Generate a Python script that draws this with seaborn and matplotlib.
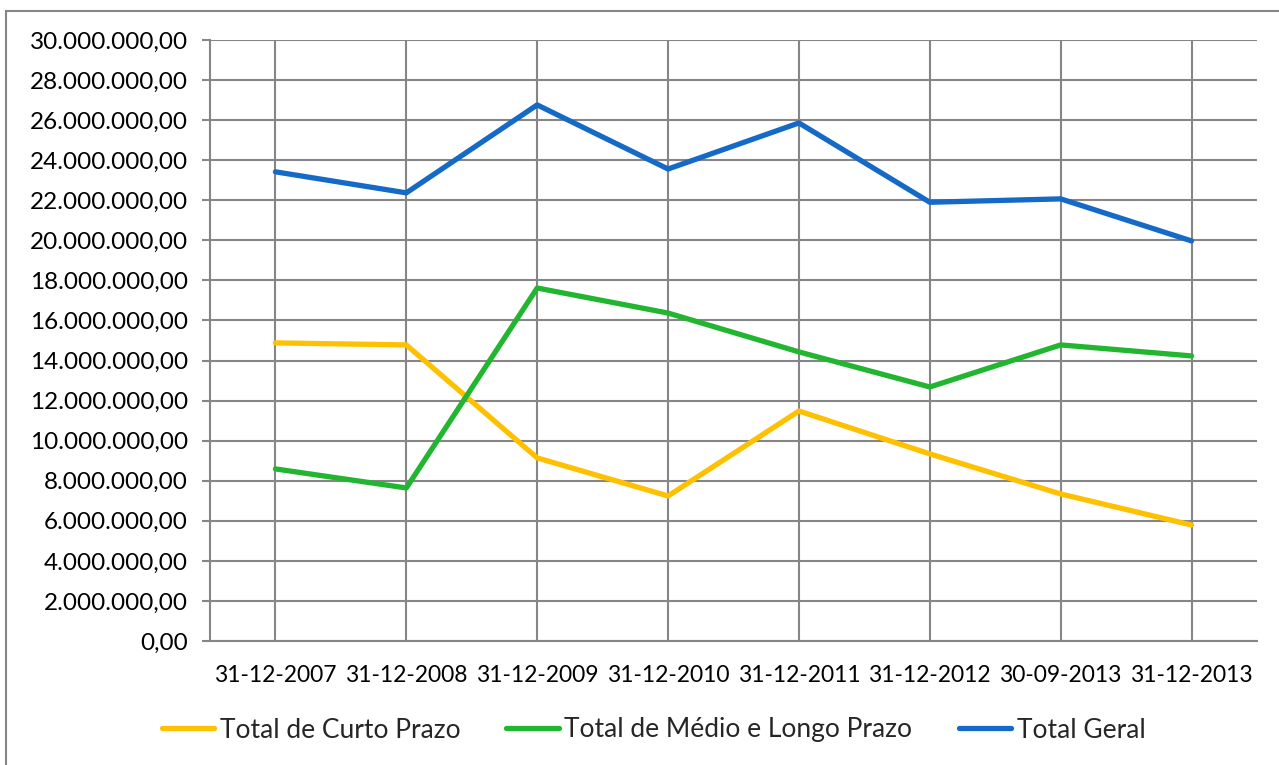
import pandas as pd
import numpy as np
import matplotlib
matplotlib.use('Agg')
import matplotlib.pyplot as plt
from matplotlib.ticker import FuncFormatter, FixedLocator
from matplotlib.patches import Rectangle
import seaborn as sns

# dados
datas = ['31-12-2007', '31-12-2008', '31-12-2009', '31-12-2010',
         '31-12-2011', '31-12-2012', '30-09-2013', '31-12-2013']
curto_prazo = [14.88, 14.78, 9.14, 7.24, 11.48, 9.34, 7.34, 5.79]
medio_longo = [8.59, 7.64, 17.62, 16.37, 14.43, 12.68, 14.78, 14.23]
total_geral = [23.42, 22.37, 26.76, 23.56, 25.86, 21.90, 22.07, 19.97]
series = ['Total de Curto Prazo', 'Total de Médio e Longo Prazo', 'Total Geral']
cores = ['#FFC000', '#21B530', '#1569C7']

sns.set_theme(style='white')
plt.rcParams['font.family'] = ['Lato', 'DejaVu Sans']

df = pd.DataFrame({
    'data': datas * 3,
    'valor': np.array(curto_prazo + medio_longo + total_geral) * 1e6,
    'serie': [series[0]] * 8 + [series[1]] * 8 + [series[2]] * 8,
})
df['pos'] = list(range(8)) * 3

fig = plt.figure(figsize=(12.79, 7.65), dpi=100)
ax = fig.add_axes([210 / 1279, 1 - 641 / 765, 1047 / 1279, 601 / 765])

sns.lineplot(data=df, x='pos', y='valor', hue='serie', hue_order=series,
             palette=cores, linewidth=3.8, ax=ax, legend=True)

# eixos
ax.set_xlim(-0.5, 7.5)
ax.set_ylim(0, 30e6)
ax.yaxis.set_major_locator(FixedLocator(np.arange(0, 30e6 + 1, 2e6)))
ax.yaxis.set_major_formatter(FuncFormatter(
    lambda v, p: f'{v:,.2f}'.replace(',', 'X').replace('.', ',').replace('X', '.')))
ax.set_xticks(range(8))
ax.set_xticklabels(datas)
ax.set_xticks(np.arange(-0.5, 8, 1), minor=True)
ax.set_xlabel('')
ax.set_ylabel('')

grid_cor = '#868686'
ax.grid(True, which='major', color=grid_cor, linewidth=1.5)
ax.set_axisbelow(True)
for s in ['top', 'right']:
    ax.spines[s].set_visible(False)
for s in ['left', 'bottom']:
    ax.spines[s].set_color(grid_cor)
    ax.spines[s].set_linewidth(1.5)

ax.tick_params(axis='x', which='major', length=0, pad=17.5, labelsize=16.5)
ax.tick_params(axis='x', which='minor', length=6.5, width=1.5, color=grid_cor, direction='out')
ax.tick_params(axis='y', which='major', length=6, width=1.5, color=grid_cor, direction='out',
               left=True, pad=10, labelsize=17.5)
for lbl in ax.get_yticklabels() + ax.get_xticklabels():
    lbl.set_color('black')

# legenda
handles, labels = ax.get_legend_handles_labels()
ax.legend(handles, labels, loc='center',
          bbox_to_anchor=(0.5 - 80 / 1047, -(730 - 641) / 601),
          ncol=3, frameon=False, fontsize=19, handlelength=2.0, handletextpad=0.2,
          columnspacing=1.75)

# moldura exterior
fig.patches.append(Rectangle((6 / 1279, -0.01), 1.2, 1 - 11 / 765 + 0.01,
                             transform=fig.transFigure, fill=False,
                             edgecolor='#868686', linewidth=1.5))

fig.savefig('out.png', dpi=100)
